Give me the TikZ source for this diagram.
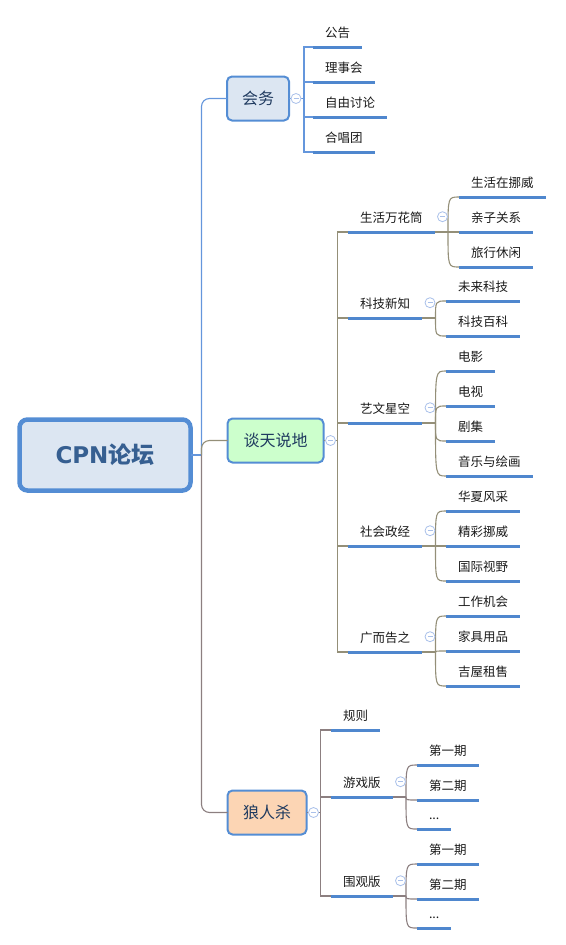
\documentclass[tikz,border=0pt]{standalone}
\usepackage{fontspec}
\setmainfont{Noto Sans CJK SC}
\newfontfamily\latinsans{DejaVu Sans}
\usetikzlibrary{calc}

\definecolor{boxblue}{HTML}{548DD4}
\definecolor{rootfill}{HTML}{DCE6F2}
\definecolor{roottext}{HTML}{365F91}
\definecolor{topictext}{HTML}{1F3A5F}
\definecolor{ttfill}{HTML}{CCFFCC}
\definecolor{lrfill}{HTML}{FCD5B4}
\definecolor{lineblue}{HTML}{4F87CE}
\definecolor{linkblue}{HTML}{6496DC}
\definecolor{linktaupe}{HTML}{948F78}
\definecolor{linkmauve}{HTML}{8C7F80}
\definecolor{foldblue}{HTML}{A9C0EA}
\definecolor{leaftext}{HTML}{1A1A1A}

\newcommand{\moredots}{...}

\begin{document}
\begin{tikzpicture}[x=1pt, y=-1pt,
    every node/.style={outer sep=0pt},
    root/.style={draw=boxblue, line width=4.5pt, fill=rootfill, rounded corners=8pt,
        minimum width=171pt, minimum height=71pt, text=roottext,
        font=\fontsize{23}{27}\selectfont\bfseries},
    topic/.style={draw=boxblue, line width=2pt, rounded corners=5pt, minimum height=44pt,
        inner sep=0pt, text=topictext, font=\fontsize{16}{19}\selectfont},
    uline/.style={draw=lineblue, line width=3pt},
    leaf/.style={anchor=south west, inner xsep=12pt, inner ysep=6.3pt, text height=11pt,
        text depth=3pt, text=leaftext, font=\fontsize{12.5}{15}\selectfont,
        append after command={(\tikzlastnode.south west) edge[uline] (\tikzlastnode.south east)}},
    bluelink/.style={draw=linkblue, line width=1.1pt},
    taupelink/.style={draw=linktaupe, line width=1.1pt},
    mauvelink/.style={draw=linkmauve, line width=1.1pt},
    fold/.style={circle, draw=foldblue, fill=white, line width=0.8pt, minimum size=10pt, inner sep=0pt,
        path picture={\draw[foldblue, line width=0.8pt]
            ([xshift=-2.5pt]path picture bounding box.center) -- ([xshift=2.5pt]path picture bounding box.center);}}
]
\useasboundingbox (0,0) rectangle (565,945);

% main topics
\node[root] (cpn) at (105,455) {{\latinsans\bfseries CPN}论坛};
\node[topic, fill=rootfill, minimum width=62pt] (huiwu) at (258,98.5) {会务};
\node[topic, fill=ttfill, minimum width=96pt] (tantian) at (275.5,440.5) {谈天说地};
\node[topic, fill=lrfill, minimum width=79pt] (langren) at (267,812.5) {狼人杀};

\coordinate (trunk) at (201.5,455);
\draw[bluelink] (cpn.east) -- (trunk);
\draw[bluelink, rounded corners=8pt] (trunk) |- (huiwu.west);
\draw[taupelink, rounded corners=8pt] (trunk) |- (tantian.west);
\draw[mauvelink, rounded corners=8pt] (trunk) |- (langren.west);

% 会务
\coordinate (huiwu-j) at (304,98.5);
\draw[bluelink] (huiwu.east) -- (huiwu-j);
\foreach \nm/\yy/\txt in {gonggao/47/公告, lishi/82/理事会, ziyou/117/自由讨论, hechang/152/合唱团} {
    \node[leaf] (\nm) at (313,\yy) {\txt};
    \draw[bluelink] (huiwu-j) |- (\nm.south west);
}

% 谈天说地
\coordinate (tantian-j) at (337.5,440.5);
\draw[taupelink] (tantian.east) -- (tantian-j);
\foreach \nm/\yy/\txt in {shenghuo/232/生活万花筒, keji/318/科技新知, yiwen/423/艺文星空,
        shehui/546/社会政经, guanggao/652/广而告之} {
    \node[leaf] (\nm) at (348,\yy) {\txt};
    \draw[taupelink] (tantian-j) |- (\nm.south west);
    \coordinate (\nm-j) at ([xshift=13.5pt]\nm.south east);
    \draw[taupelink] (\nm.south east) -- (\nm-j);
}
\foreach \p/\nm/\xx/\yy/\txt in {shenghuo/nuowei/459/197/生活在挪威, shenghuo/qinzi/459/232/亲子关系,
        shenghuo/lvxing/459/267/旅行休闲,
        keji/weilai/446/301/未来科技, keji/baike/446/336/科技百科,
        yiwen/dianying/446/371/电影, yiwen/dianshi/446/406/电视, yiwen/juji/446/441/剧集,
        yiwen/yinyue/446/476/音乐与绘画,
        shehui/huaxia/446/511/华夏风采, shehui/jingcai/446/546/精彩挪威, shehui/guoji/446/581/国际视野,
        guanggao/gongzuo/446/616/工作机会, guanggao/jiaju/446/651/家具用品, guanggao/jiwu/446/686/吉屋租售} {
    \node[leaf] (\nm) at (\xx,\yy) {\txt};
    \draw[taupelink] (\p-j) .. controls (\p-j |- \nm.south west) .. (\nm.south west);
}

% 狼人杀
\coordinate (langren-j) at (320.5,812.5);
\draw[mauvelink] (langren.east) -- (langren-j);
\foreach \nm/\yy/\txt in {guize/730/规则, youxi/797/游戏版, weiguan/896/围观版} {
    \node[leaf] (\nm) at (331,\yy) {\txt};
    \draw[mauvelink] (langren-j) |- (\nm.south west);
}
\foreach \nm in {youxi, weiguan} {
    \coordinate (\nm-j) at ([xshift=13.5pt]\nm.south east);
    \draw[mauvelink] (\nm.south east) -- (\nm-j);
}
\foreach \p/\nm/\yy/\txt in {youxi/yx1/765/第一期, youxi/yx2/800/第二期, youxi/yx3/829/\moredots,
        weiguan/wg1/864/第一期, weiguan/wg2/899/第二期, weiguan/wg3/928/\moredots} {
    \node[leaf] (\nm) at (417,\yy) {\txt};
    \draw[mauvelink] (\p-j) .. controls (\p-j |- \nm.south west) .. (\nm.south west);
}

% fold markers
\foreach \nm in {huiwu, tantian, langren}
    \node[fold] (\nm-f) at ([xshift=7pt]\nm.east) {};
\foreach \nm in {shenghuo, keji, yiwen, shehui, guanggao, youxi, weiguan}
    \node[fold] (\nm-f) at ([xshift=8pt,yshift=2pt]\nm.east) {};
\end{tikzpicture}
\end{document}
